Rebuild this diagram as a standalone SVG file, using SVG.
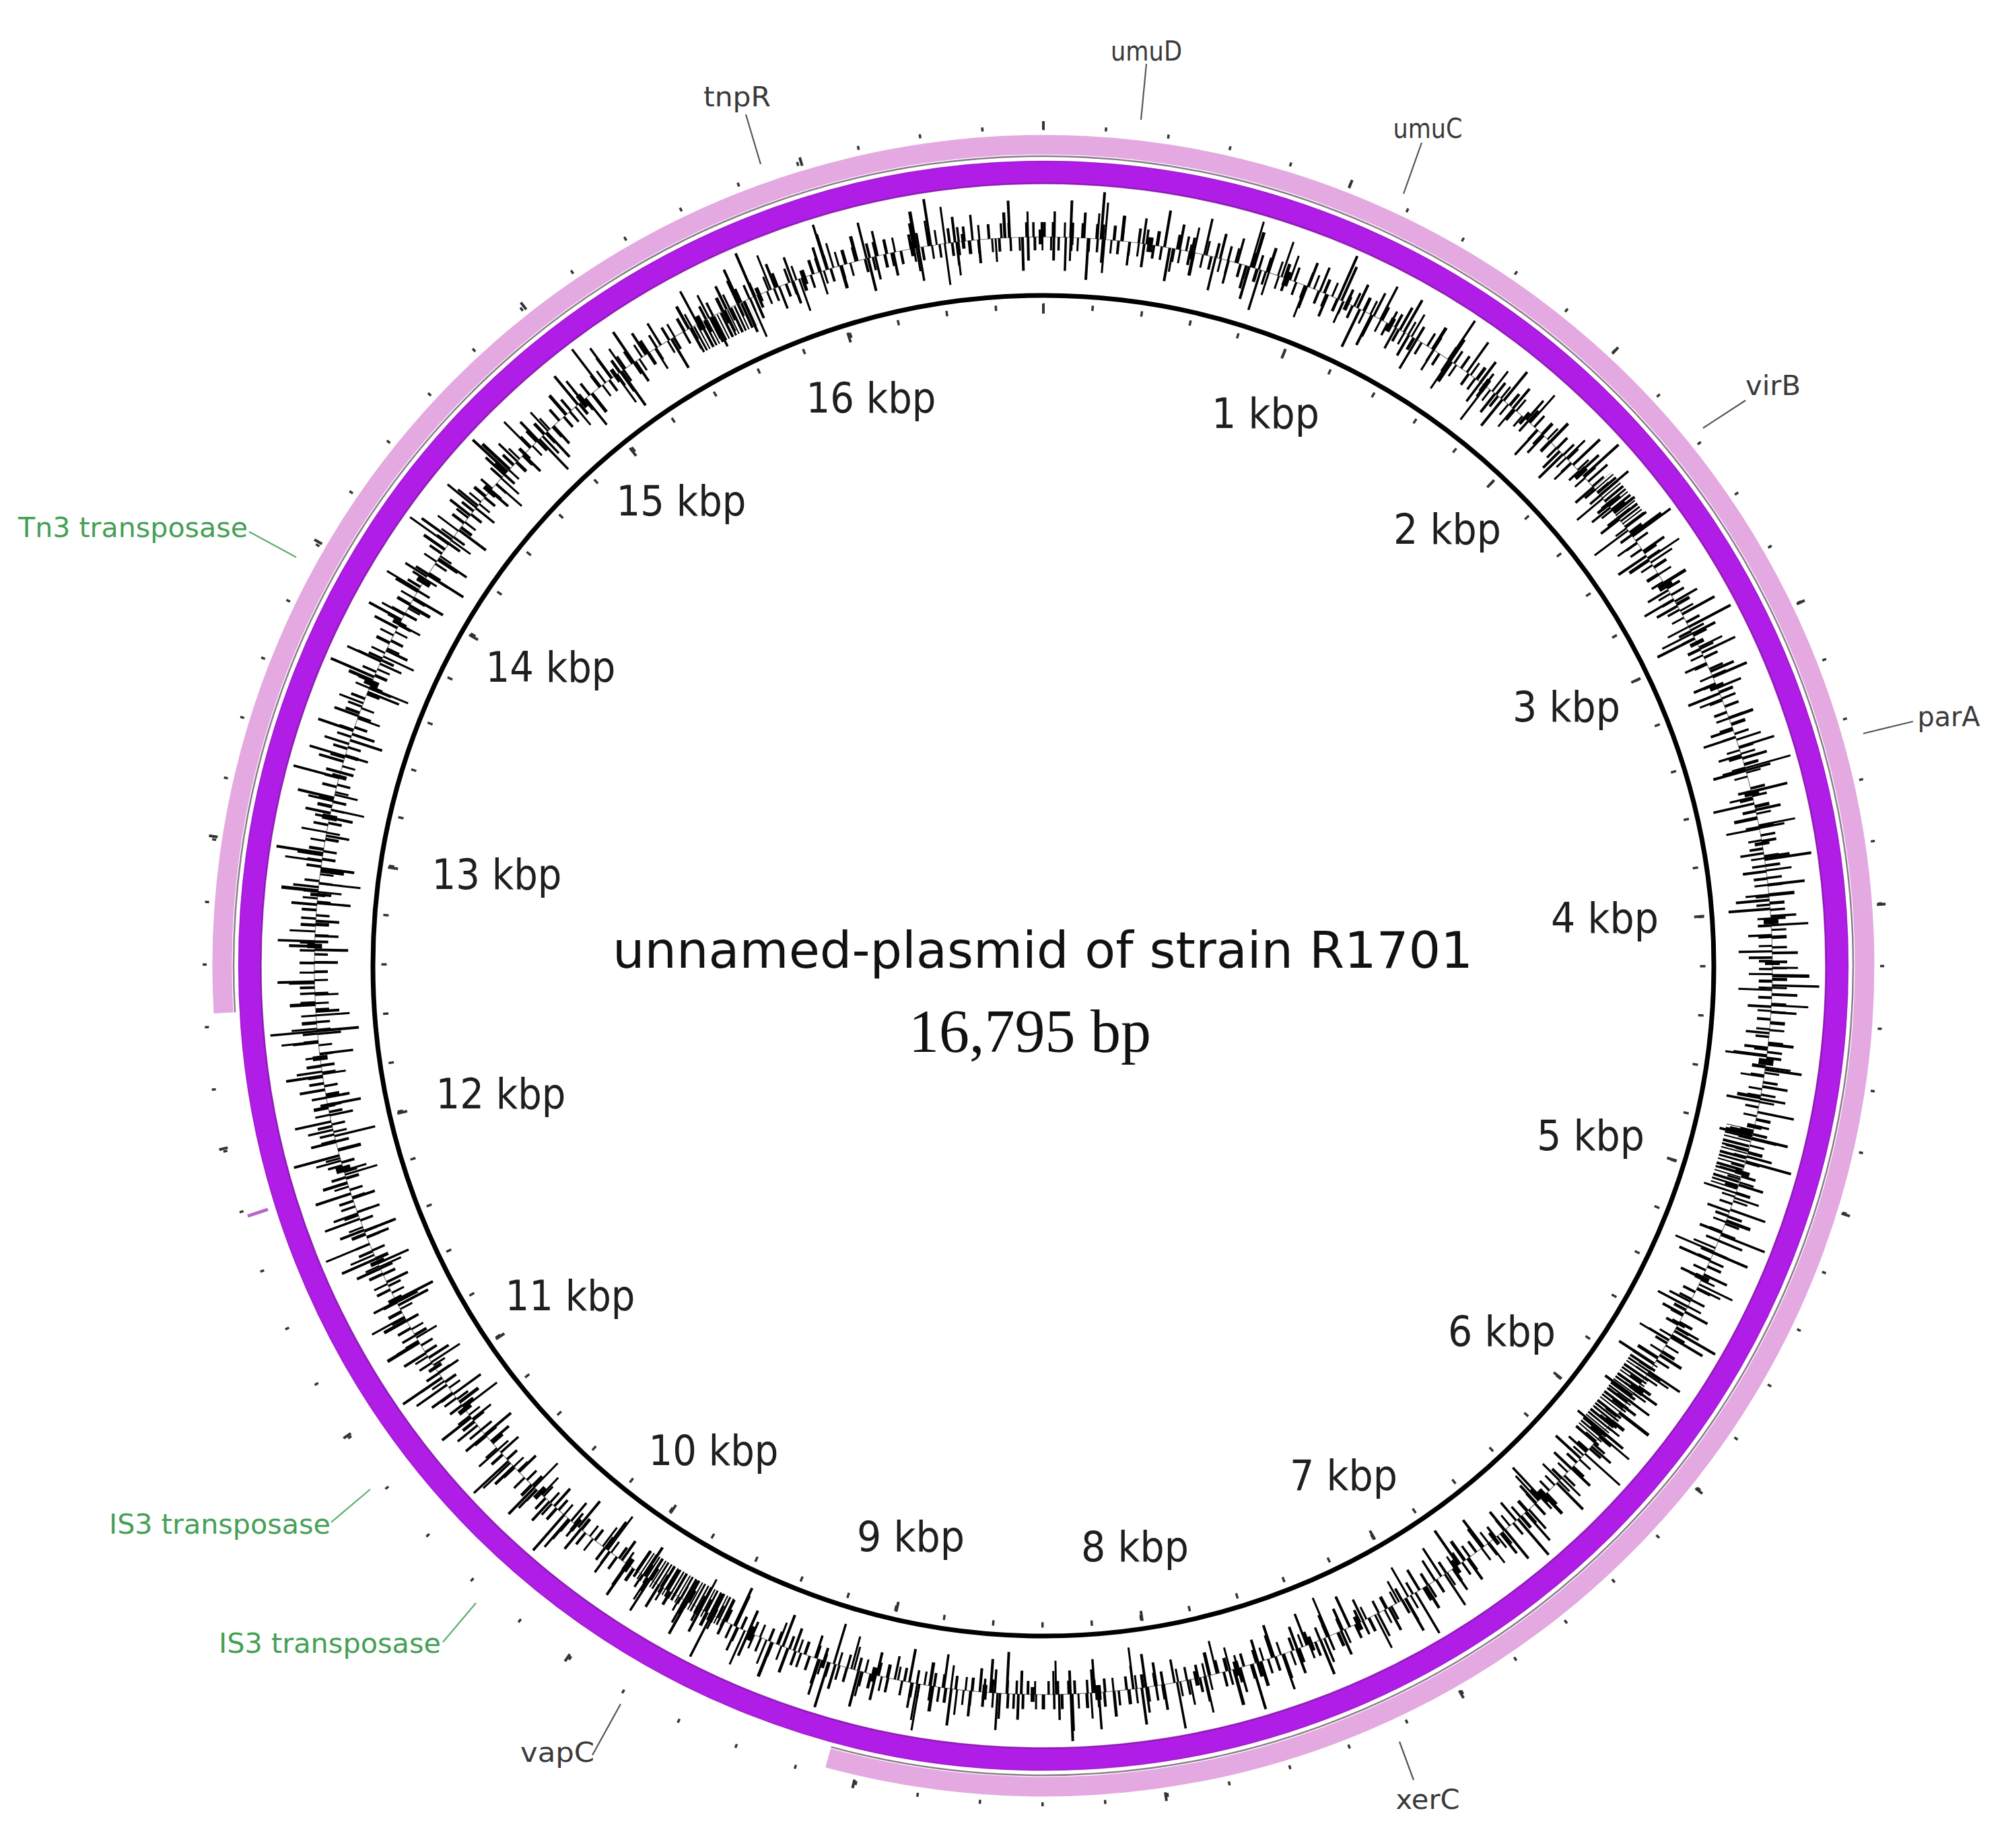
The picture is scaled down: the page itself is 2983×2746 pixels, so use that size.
<svg xmlns="http://www.w3.org/2000/svg" width="2983" height="2746" viewBox="0 0 2983 2746">
<style>
.kbp{font-family:"DejaVu Sans","Liberation Sans",sans-serif;font-size:62px;fill:#1e1e1e;text-anchor:middle}
.gene{font-family:"DejaVu Sans","Liberation Sans",sans-serif;font-size:40px;fill:#3a3a3a;text-anchor:middle}
.green{font-family:"DejaVu Sans","Liberation Sans",sans-serif;font-size:41px;fill:#45a055}
.lead{stroke:#555;stroke-width:2.2;fill:none}
.leadg{stroke:#5fae6e;stroke-width:2.2;fill:none}
.gc{fill:none;stroke:#000}
.tick{fill:none;stroke:#333}
</style>
<defs>
<clipPath id="wA"><polygon points="1550,1435 936,2693 767,2596"/></clipPath>
<clipPath id="wB"><polygon points="1550,1435 871,211 981,156"/></clipPath>
<clipPath id="wC"><polygon points="1550,1435 2914,1750 2882,1868"/></clipPath>
<clipPath id="wD"><polygon points="1550,1435 2724,2197 2607,2354"/></clipPath>
<clipPath id="wE"><polygon points="1550,1435 2607,517 2668,593"/></clipPath>
</defs>
<rect width="2983" height="2746" fill="#fff"/>

<g id="rings">
<circle cx="1550" cy="1435" r="1179" fill="none" stroke="#b01de6" stroke-width="34"/>
<circle cx="1550" cy="1435" r="1162.5" fill="none" stroke="#7a1599" stroke-width="2.5" opacity="0.7"/>
<circle cx="1550" cy="1435" r="1195.5" fill="none" stroke="#8a1aab" stroke-width="1.5" opacity="0.5"/>
<path d="M332.0,1505.2 A1220,1220 0 1 1 1230.1,2612.3" fill="none" stroke="#e3a9e0" stroke-width="29"/>
<path d="M349.0,1504.2 A1203,1203 0 1 1 1234.6,2595.9" fill="none" stroke="#8c7c8c" stroke-width="2.5"/>
<line x1="398" y1="1797" x2="368" y2="1807" stroke="#b865cc" stroke-width="5"/>
</g>

<g id="gc-plot" transform="rotate(-90 1550 1435)">
<circle cx="1550" cy="1435" r="1083" fill="none" stroke="#777" stroke-width="1.2"/>
<circle class="gc" cx="1550" cy="1435" r="1094" stroke-width="22" stroke-dasharray="3.5 9 4 14 3 7 5 11 3.5 18 4 6 3 13 4.5 9 3 21 4 8 3.5 12 5 7 3 16 4 10 3.5 5 4 19 3 11 4 15 3.5 8 3 23 4.5 6"/>
<circle class="gc" cx="1550" cy="1435" r="1102" stroke-width="38" stroke-dasharray="4 24 3.5 41 4 17 3 33 5 28 3.5 52 4 19 3 37 4 23 3.5 45 4.5 31 3 26 4 15 3.5 58" stroke-dashoffset="13"/>
<circle class="gc" cx="1550" cy="1435" r="1110.5" stroke-width="55" stroke-dasharray="3.5 67 4 49 3 88 4 58 3.5 73 5 41 3 95 4 62 3.5 37 4 110" stroke-dashoffset="31"/>
<circle class="gc" cx="1550" cy="1435" r="1118" stroke-width="70" stroke-dasharray="3.5 160 4 230 3 140 4 190 3.5 270 4 115" stroke-dashoffset="77"/>
<circle class="gc" cx="1550" cy="1435" r="1073" stroke-width="20" stroke-dasharray="4 11 3 8 3.5 15 4 6 3 12 5 9 3.5 17 3 7 4 13 3.5 10 3 19 4 8 3.5 14 4.5 6 3 11 4 16 3 9" stroke-dashoffset="5"/>
<circle class="gc" cx="1550" cy="1435" r="1065.5" stroke-width="35" stroke-dasharray="3.5 29 4 21 3 44 4 35 3.5 18 4 39 3 27 5 48 3.5 23 4 31 3 56" stroke-dashoffset="19"/>
<circle class="gc" cx="1550" cy="1435" r="1058" stroke-width="50" stroke-dasharray="4 71 3.5 53 3 92 4 64 3.5 47 4 83 3 101" stroke-dashoffset="44"/>
<circle class="gc" cx="1550" cy="1435" r="1052" stroke-width="62" stroke-dasharray="3 180 4 250 3.5 150 4 210 3 290" stroke-dashoffset="120"/>
<circle class="gc" cx="1550" cy="1435" r="1083" stroke-width="22" stroke-dasharray="7 70 5 110 8 55 6 140 9 90 6 65 7 160" stroke-dashoffset="37"/>
</g>
<g id="gc-dense">
<circle class="gc" cx="1550" cy="1435" r="1070" stroke-width="46" stroke-dasharray="3 2 2 3 4 2 2.5 3" clip-path="url(#wA)"/>
<circle class="gc" cx="1550" cy="1435" r="1062" stroke-width="40" stroke-dasharray="3 2.5 2 3 4 2" clip-path="url(#wB)"/>
<circle class="gc" cx="1550" cy="1435" r="1062" stroke-width="40" stroke-dasharray="3 3 2 4 4 2" clip-path="url(#wC)"/>
<circle class="gc" cx="1550" cy="1435" r="1068" stroke-width="44" stroke-dasharray="3 2.5 2 3.5 4 2" clip-path="url(#wD)"/>
<circle class="gc" cx="1550" cy="1435" r="1100" stroke-width="36" stroke-dasharray="3 2.5 2 3 4 2" clip-path="url(#wE)"/>
</g>

<g id="ruler" transform="rotate(-90 1550 1435)">
<circle cx="1550" cy="1435" r="996" fill="none" stroke="#000" stroke-width="7"/>
<circle class="tick" cx="1550" cy="1435" r="979.5" stroke-width="8" stroke-dasharray="3.5 69.79" stroke-dashoffset="1.75"/>
<circle class="tick" cx="1550" cy="1435" r="977" stroke-width="15" stroke-dasharray="4 361.32" stroke-dashoffset="2"/>
<circle class="tick" cx="1550" cy="1435" r="1246" stroke-width="6" stroke-dasharray="3.5 89.72" stroke-dashoffset="1.75"/>
<circle class="tick" cx="1550" cy="1435" r="1248" stroke-width="13" stroke-dasharray="4 463.2" stroke-dashoffset="2"/>
</g>
<g id="zero-ticks" stroke="#333" stroke-width="4">
<line x1="1550" y1="451" x2="1550" y2="466"/>
<line x1="1550" y1="180" x2="1550" y2="193"/>
</g>

<g id="kbp-labels">
<text class="kbp" x="1294" y="613" textLength="193" lengthAdjust="spacingAndGlyphs">16 kbp</text>
<text class="kbp" x="1880" y="636" textLength="160" lengthAdjust="spacingAndGlyphs">1 kbp</text>
<text class="kbp" x="1012" y="766" textLength="193" lengthAdjust="spacingAndGlyphs">15 kbp</text>
<text class="kbp" x="2150" y="808" textLength="160" lengthAdjust="spacingAndGlyphs">2 kbp</text>
<text class="kbp" x="818" y="1013" textLength="193" lengthAdjust="spacingAndGlyphs">14 kbp</text>
<text class="kbp" x="2327" y="1072" textLength="160" lengthAdjust="spacingAndGlyphs">3 kbp</text>
<text class="kbp" x="738" y="1321" textLength="193" lengthAdjust="spacingAndGlyphs">13 kbp</text>
<text class="kbp" x="2384" y="1386" textLength="160" lengthAdjust="spacingAndGlyphs">4 kbp</text>
<text class="kbp" x="744" y="1647" textLength="193" lengthAdjust="spacingAndGlyphs">12 kbp</text>
<text class="kbp" x="2363" y="1709" textLength="160" lengthAdjust="spacingAndGlyphs">5 kbp</text>
<text class="kbp" x="847" y="1947" textLength="193" lengthAdjust="spacingAndGlyphs">11 kbp</text>
<text class="kbp" x="2231" y="2000" textLength="160" lengthAdjust="spacingAndGlyphs">6 kbp</text>
<text class="kbp" x="1060" y="2177" textLength="193" lengthAdjust="spacingAndGlyphs">10 kbp</text>
<text class="kbp" x="1996" y="2214" textLength="160" lengthAdjust="spacingAndGlyphs">7 kbp</text>
<text class="kbp" x="1353" y="2305" textLength="160" lengthAdjust="spacingAndGlyphs">9 kbp</text>
<text class="kbp" x="1686" y="2320" textLength="160" lengthAdjust="spacingAndGlyphs">8 kbp</text>
</g>

<g id="title">
<text x="1549" y="1438" font-family="'DejaVu Sans','Liberation Sans',sans-serif" font-size="75" fill="#111" text-anchor="middle" textLength="1278" lengthAdjust="spacingAndGlyphs">unnamed-plasmid of strain R1701</text>
<text x="1530" y="1563" font-family="'Liberation Serif','Times New Roman',serif" font-size="92" fill="#111" text-anchor="middle" textLength="360" lengthAdjust="spacingAndGlyphs">16,795 bp</text>
</g>

<g id="connectors">
<line class="lead" x1="1703" y1="95" x2="1695" y2="178"/>
<line class="lead" x1="2112" y1="212" x2="2085" y2="288"/>
<line class="lead" x1="1108" y1="170" x2="1130" y2="244"/>
<line class="lead" x1="2593" y1="595" x2="2530" y2="636"/>
<line class="lead" x1="2842" y1="1072" x2="2768" y2="1090"/>
<line class="lead" x1="880" y1="2608" x2="922" y2="2532"/>
<line class="lead" x1="2100" y1="2645" x2="2079" y2="2588"/>
<line class="leadg" x1="370" y1="790" x2="440" y2="828"/>
<line class="leadg" x1="492" y1="2262" x2="550" y2="2213"/>
<line class="leadg" x1="658" y1="2440" x2="707" y2="2382"/>
</g>

<g id="gene-umuD"><text class="gene" x="1703" y="90" textLength="106" lengthAdjust="spacingAndGlyphs">umuD</text></g>
<g id="gene-umuC"><text class="gene" x="2121" y="205" textLength="103" lengthAdjust="spacingAndGlyphs">umuC</text></g>
<g id="gene-tnpR"><text class="gene" x="1095" y="158" textLength="100" lengthAdjust="spacingAndGlyphs">tnpR</text></g>
<g id="gene-virB"><text class="gene" x="2634" y="587" textLength="82" lengthAdjust="spacingAndGlyphs">virB</text></g>
<g id="gene-parA"><text class="gene" x="2895" y="1079" textLength="93" lengthAdjust="spacingAndGlyphs">parA</text></g>
<g id="gene-vapC"><text class="gene" x="828" y="2618" textLength="110" lengthAdjust="spacingAndGlyphs">vapC</text></g>
<g id="gene-xerC"><text class="gene" x="2121" y="2688" textLength="95" lengthAdjust="spacingAndGlyphs">xerC</text></g>
<g id="gene-Tn3"><text class="green" x="27" y="798" textLength="341" lengthAdjust="spacingAndGlyphs">Tn3 transposase</text></g>
<g id="gene-IS3-1"><text class="green" x="162" y="2279" textLength="329" lengthAdjust="spacingAndGlyphs">IS3 transposase</text></g>
<g id="gene-IS3-2"><text class="green" x="325" y="2456" textLength="330" lengthAdjust="spacingAndGlyphs">IS3 transposase</text></g>
</svg>
